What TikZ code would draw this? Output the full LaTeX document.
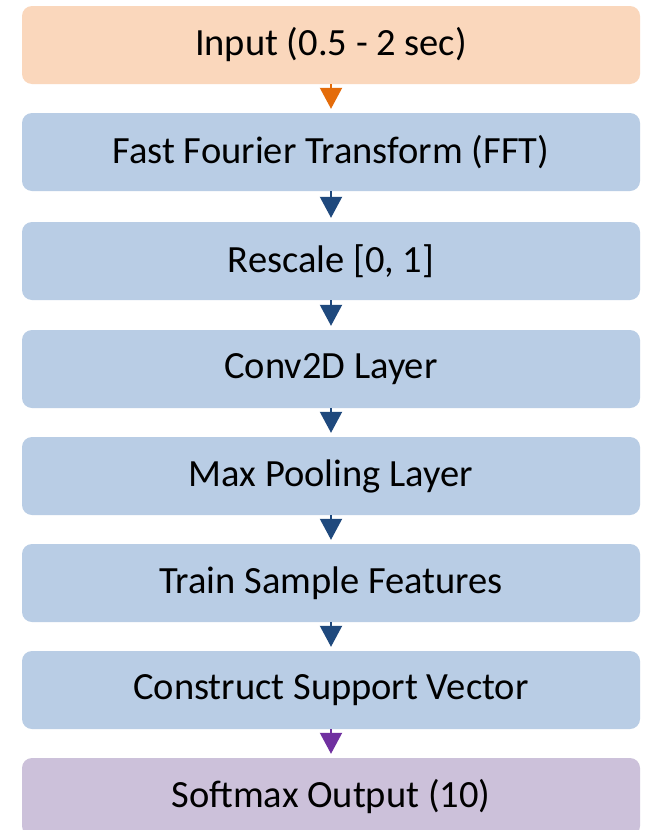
\documentclass[tikz,border=0pt]{standalone}
\usepackage{fontspec}
\setmainfont{Carlito}
\usetikzlibrary{arrows.meta}
\definecolor{peach}{HTML}{FAD7BC}
\definecolor{bluefill}{HTML}{B9CDE5}
\definecolor{purplefill}{HTML}{CCC1DA}
\definecolor{orangearrow}{HTML}{E46C0A}
\definecolor{bluearrow}{HTML}{1F497D}
\definecolor{purplearrow}{HTML}{7030A0}
\tikzset{
  box/.style={rounded corners=10pt, minimum width=618pt, minimum height=78pt, inner sep=0pt,
    font=\fontsize{38.5}{44}\selectfont, text=black},
  flow/.style={line width=2pt, -{Triangle[width=22pt,length=21pt]}, shorten >=4pt},
}
\begin{document}
\begin{tikzpicture}[x=1pt,y=-1pt]
\useasboundingbox (0,0) rectangle (649,830);
\clip (0,0) rectangle (649,830);
\fill[white] (0,0) rectangle (649,830);
\node[box, fill=peach] (n1) at (331,45) {Input (0.5 - 2 sec)};
\node[box, fill=bluefill] (n2) at (331,152) {Fast Fourier Transform (FFT)};
\node[box, fill=bluefill] (n3) at (331,261) {Rescale [0, 1]};
\node[box, fill=bluefill] (n4) at (331,369) {Conv2D Layer};
\node[box, fill=bluefill] (n5) at (331,476) {Max Pooling Layer};
\node[box, fill=bluefill] (n6) at (331,583) {Train Sample Features};
\node[box, fill=bluefill] (n7) at (331,690) {Construct Support Vector};
\node[box, fill=purplefill] (n8) at (331,797) {Softmax Output (10)};
\draw[flow, orangearrow] (n1.south) -- (n2.north);
\draw[flow, bluearrow] (n2.south) -- (n3.north);
\draw[flow, bluearrow] (n3.south) -- (n4.north);
\draw[flow, bluearrow] (n4.south) -- (n5.north);
\draw[flow, bluearrow] (n5.south) -- (n6.north);
\draw[flow, bluearrow] (n6.south) -- (n7.north);
\draw[flow, purplearrow] (n7.south) -- (n8.north);
\end{tikzpicture}
\end{document}
